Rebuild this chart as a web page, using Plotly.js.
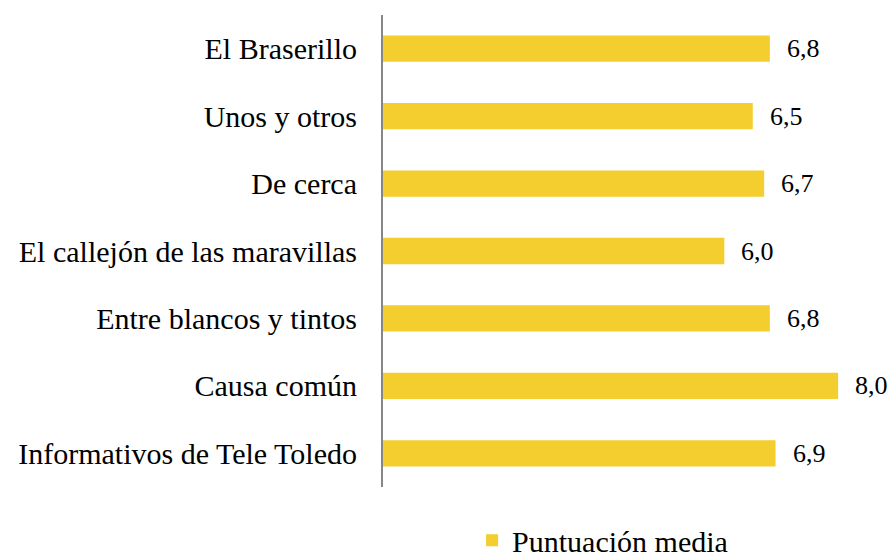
<!DOCTYPE html>
<html>
<head>
<meta charset="utf-8">
<script src="https://cdn.plot.ly/plotly-3.0.1.min.js"></script>
<style>
html,body{margin:0;padding:0;background:#fff;}
#chart{width:895px;height:558px;}
</style>
</head>
<body>
<div id="chart"></div>
<script>
const categories = [
  "El Braserillo",
  "Unos y otros",
  "De cerca",
  "El callejón de las maravillas",
  "Entre blancos y tintos",
  "Causa común",
  "Informativos de Tele Toledo"
];
const values = [6.8, 6.5, 6.7, 6.0, 6.8, 8.0, 6.9];
const seriesName = "Puntuación media";

const barColor = "#F4CD2E";
const fontFamily = "Liberation Serif, Times New Roman, serif";

const valueLabels = values.map(v => v.toFixed(1).replace('.', ','));

const trace = {
  type: 'bar',
  orientation: 'h',
  x: values,
  y: categories,
  name: seriesName,
  marker: {color: barColor},
  width: 0.39,
  showlegend: true,
  hoverinfo: 'x+y'
};

const annotations = values.map((v, i) => ({
  x: v,
  y: categories[i],
  xref: 'x',
  yref: 'y',
  text: valueLabels[i],
  showarrow: false,
  xanchor: 'left',
  yanchor: 'middle',
  xshift: 15,
  font: {family: fontFamily, size: 26, color: '#000'}
}));

const layout = {
  width: 895,
  height: 558,
  margin: {l: 383, r: 0, t: 15, b: 71, autoexpand: false},
  paper_bgcolor: '#fff',
  plot_bgcolor: '#fff',
  font: {family: fontFamily, color: '#000'},
  xaxis: {
    range: [0, 9],
    showgrid: false,
    zeroline: false,
    showline: false,
    showticklabels: false,
    ticks: ''
  },
  yaxis: {
    type: 'category',
    categoryorder: 'array',
    categoryarray: categories,
    autorange: 'reversed',
    showgrid: false,
    zeroline: false,
    showline: true,
    linecolor: '#868686',
    linewidth: 2,
    ticks: '',
    ticklabelstandoff: 18,
    tickfont: {family: fontFamily, size: 30, color: '#000'}
  },
  showlegend: true,
  legend: {
    orientation: 'h',
    x: 0.174,
    xanchor: 'left',
    yref: 'container',
    y: 0.032,
    yanchor: 'middle',
    font: {family: fontFamily, size: 30, color: '#000'},
    bgcolor: 'rgba(0,0,0,0)'
  },
  annotations: annotations
};

Plotly.newPlot('chart', [trace], layout, {displayModeBar: false, staticPlot: true});
</script>
</body>
</html>
